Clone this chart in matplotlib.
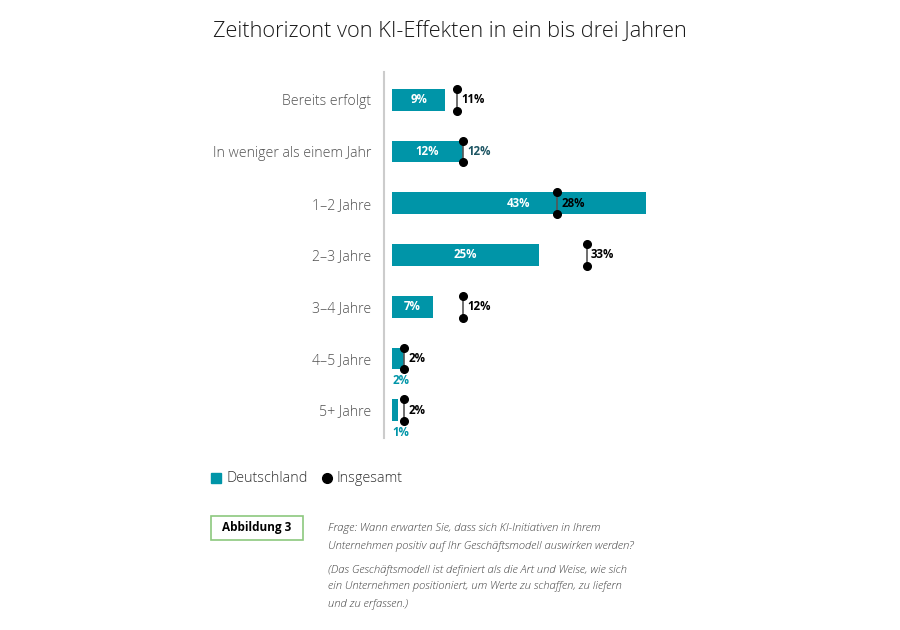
import matplotlib.pyplot as plt
from matplotlib.patches import Rectangle
from matplotlib import font_manager as fm

categories = ['Bereits erfolgt', 'In weniger als einem Jahr', '1–2 Jahre', '2–3 Jahre',
              '3–4 Jahre', '4–5 Jahre', '5+ Jahre']
deutschland = [9, 12, 43, 25, 7, 2, 1]
insgesamt = [11, 12, 28, 33, 12, 2, 2]

teal = '#0095a8'
grey_text = '#505050'
# label colour of the Insgesamt value per row (second row is drawn dark teal)
insg_colors = ['black', '#1d5563', 'black', 'black', 'black', 'black', 'black']


def font(filename, size):
    # pick the static Open Sans file, fall back to DejaVu
    for f in fm.fontManager.ttflist:
        if f.fname.endswith('/' + filename):
            return fm.FontProperties(fname=f.fname, size=size)
    return fm.FontProperties(family='DejaVu Sans', size=size)


light = lambda s: font('OpenSans-Light.ttf', s)
bold = lambda s: font('OpenSans-Bold.ttf', s)

fig = plt.figure(figsize=(9, 6.3), dpi=100)
ax = fig.add_axes([384 / 900, 1 - 438 / 630, (720 - 384) / 900, (438 - 72) / 630])

y = list(range(len(categories)))
bar_h = 0.42
ax.barh(y, deutschland, height=bar_h, color=teal, zorder=2)

for i, (d, g) in enumerate(zip(deutschland, insgesamt)):
    # label for Deutschland
    if d >= 5:
        ax.text(d / 2, i, f'{d}%', ha='center', va='center', color='white',
                fontproperties=bold(8.3), zorder=4)
    else:
        ax.text(0.0, i + 0.43, f'{d}%', ha='left', va='center', color=teal,
                fontproperties=bold(8.3))
    # marker for Insgesamt
    ax.plot([g, g], [i - bar_h / 2, i + bar_h / 2], color='#555555', lw=1.2, zorder=3)
    ax.plot([g, g], [i - bar_h / 2, i + bar_h / 2], 'o', color='black', ms=5.5, zorder=3)
    ax.text(g + 0.75, i, f'{g}%', ha='left', va='center', color=insg_colors[i],
            fontproperties=bold(8.3), zorder=4)

ax.set_xlim(-1.36, 55.6)
ax.set_ylim(6.54, -0.54)
ax.set_yticks(y)
ax.set_yticklabels(categories, color=grey_text)
for t in ax.get_yticklabels():
    t.set_fontproperties(light(10.2))
ax.tick_params(axis='y', length=0, pad=9)
ax.set_xticks([])
for s in ['top', 'right', 'bottom']:
    ax.spines[s].set_visible(False)
ax.spines['left'].set_color('#cccccc')
ax.spines['left'].set_linewidth(1.5)

fig.text(0.5, 1 - 32 / 630, 'Zeithorizont von KI-Effekten in ein bis drei Jahren',
         ha='center', va='center', fontproperties=light(15.7), color='#1a1a1a')

# legend
fig.patches.append(Rectangle((211 / 900, 1 - 483 / 630), 10 / 900, 10 / 630,
                             transform=fig.transFigure, color=teal))
fig.text(226 / 900, 1 - 478 / 630, 'Deutschland', ha='left', va='center',
         fontproperties=light(10.4), color='#333333')
fig.lines.append(plt.Line2D([327 / 900], [1 - 478 / 630], marker='o', ms=7,
                            color='black', transform=fig.transFigure))
fig.text(336 / 900, 1 - 478 / 630, 'Insgesamt', ha='left', va='center',
         fontproperties=light(10.4), color='#333333')

# figure label box
fig.patches.append(Rectangle((211 / 900, 1 - 540 / 630), 92 / 900, 24 / 630,
                             transform=fig.transFigure, fill=False,
                             edgecolor='#8cc87e', lw=1.2))
fig.text(257 / 900, 1 - 528 / 630, 'Abbildung 3', ha='center', va='center',
         fontproperties=bold(8.5), color='black')

notes = [
    (528, 'Frage: Wann erwarten Sie, dass sich KI-Initiativen in Ihrem'),
    (546, 'Unternehmen positiv auf Ihr Geschäftsmodell auswirken werden?'),
    (570, '(Das Geschäftsmodell ist definiert als die Art und Weise, wie sich'),
    (587, 'ein Unternehmen positioniert, um Werte zu schaffen, zu liefern'),
    (604, 'und zu erfassen.)'),
]
for yy, t in notes:
    fig.text(328 / 900, 1 - yy / 630, t, ha='left', va='center',
             fontproperties=font('OpenSans-LightItalic.ttf', 8.1), color='#404040')

fig.savefig('out.png', dpi=100)
